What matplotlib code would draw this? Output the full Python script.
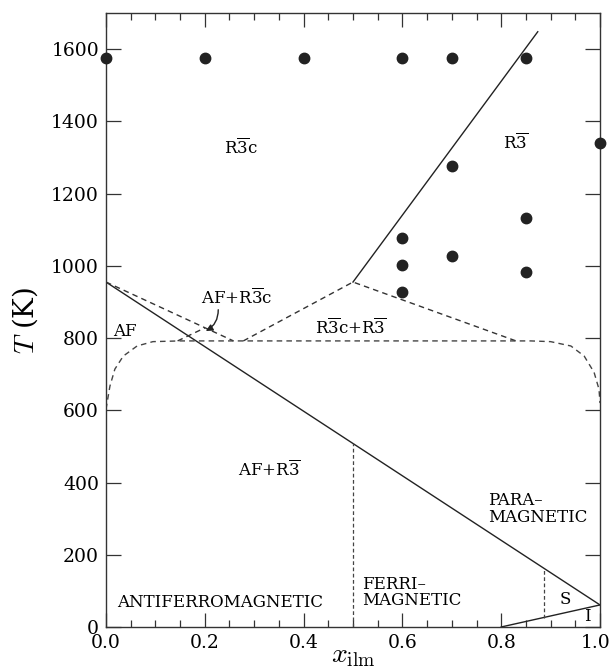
import numpy as np
import matplotlib
matplotlib.use('Agg')
import matplotlib.pyplot as plt
import matplotlib.transforms as mtransforms
from matplotlib.ticker import MultipleLocator

# Fonts: serif text, serif mathtext for the overbars and axis symbols
plt.rcParams['font.family'] = 'DejaVu Serif'
plt.rcParams['mathtext.fontset'] = 'dejavuserif'

# Measured points (x_ilm, T in K)
pts_x = [0.0, 0.2, 0.4, 0.6, 0.7, 0.85, 1.0, 0.7, 0.85, 0.6, 0.6, 0.6, 0.7, 0.85]
pts_T = [1575, 1575, 1575, 1575, 1575, 1575, 1340, 1276, 1132, 1077, 1002, 927, 1027, 983]

# R-3c / R-3 transition (solid, upper right)
trans_x = [0.5, 0.874]
trans_T = [955, 1648]

# Magnetic ordering line and the S / I boundary
neel_x = [0.0, 1.0]
neel_T = [955, 61]
si_x = [0.8, 1.0]
si_T = [0, 61]

# Dashed phase boundaries around the eutectoid region
afr_x = [0.0, 0.258]
afr_T = [955, 792]
afr2_x = [0.145, 0.2]
afr2_T = [792, 828]
tri_x = [0.278, 0.5, 0.83]
tri_T = [792, 955, 792]

# Miscibility gap (dashed curve)
gap_x = [0.0, 0.008, 0.018, 0.035, 0.063, 0.095, 0.15, 0.5, 0.86, 0.90, 0.941, 0.968, 0.988, 0.998, 1.0]
gap_T = [603, 667, 714, 750, 778, 790, 792, 792, 792, 790, 778, 750, 705, 658, 620]

# Vertical dashed lines (ferri / antiferro, S boundary)
v1_x = [0.5, 0.5]
v1_T = [0, 508]
v2_x = [0.886, 0.886]
v2_T = [26, 163]

xticks = [0.0, 0.2, 0.4, 0.6, 0.8, 1.0]
xticklabels = ['0.0', '0.2', '0.4', '0.6', '0.8', '1.0']

fig = plt.figure(figsize=(6.13, 6.71), dpi=100)
ax = fig.add_axes([0.1729, 0.0656, 0.8059, 0.9151])

lw = 1.0
dash = (0, (4, 3))
ax.plot(trans_x, trans_T, color='#222222', lw=lw)
ax.plot(neel_x, neel_T, color='#222222', lw=lw)
ax.plot(si_x, si_T, color='#222222', lw=lw)

ax.plot(afr_x, afr_T, color='#333333', lw=lw, ls=dash)
ax.plot(afr2_x, afr2_T, color='#333333', lw=lw, ls=dash)
ax.plot(tri_x, tri_T, color='#333333', lw=lw, ls=dash)
ax.plot(gap_x, gap_T, color='#444444', lw=lw, ls=dash)
ax.plot(v1_x, v1_T, color='#444444', lw=0.9, ls=(0, (3, 2)))
ax.plot(v2_x, v2_T, color='#444444', lw=0.9, ls=(0, (3, 2)))

ax.plot(pts_x, pts_T, 'o', color='#222222', markersize=7.5, clip_on=False, zorder=5)

fs = 12
ax.text(0.272, 1325, r'R$\overline{3}$c', fontsize=fs, ha='center', va='center')
ax.text(0.83, 1340, r'R$\overline{3}$', fontsize=fs, ha='center', va='center')
ax.text(0.265, 910, r'AF+R$\overline{3}$c', fontsize=fs, ha='center', va='center')
ax.text(0.015, 817, 'AF', fontsize=fs, ha='left', va='center')
ax.text(0.496, 828, r'R$\overline{3}$c+R$\overline{3}$', fontsize=fs, ha='center', va='center')
ax.text(0.33, 435, r'AF+R$\overline{3}$', fontsize=fs, ha='center', va='center')
ax.text(0.022, 69, 'ANTIFERROMAGNETIC', fontsize=fs, ha='left', va='center')
ax.text(0.518, 95, 'FERRI\u2013\nMAGNETIC', fontsize=fs, ha='left', va='center',
        linespacing=0.95)
ax.text(0.773, 327, 'PARA\u2013\nMAGNETIC', fontsize=fs, ha='left', va='center',
        linespacing=0.95)
ax.text(0.929, 75, 'S', fontsize=fs, ha='center', va='center')
ax.text(0.974, 28, 'I', fontsize=fs, ha='center', va='center')

ax.annotate('', xy=(0.197, 816), xytext=(0.227, 886),
            arrowprops=dict(arrowstyle='-|>', color='#222222', lw=1.0,
                            mutation_scale=10,
                            connectionstyle='arc3,rad=-0.35'))

ax.set_xlim(0, 1.0)
ax.set_ylim(0, 1700)
ax.xaxis.set_minor_locator(MultipleLocator(0.05))
ax.yaxis.set_major_locator(MultipleLocator(200))
ax.set_xticks(xticks)
ax.set_xticklabels(xticklabels)
ax.tick_params(which='both', direction='in', top=True, right=True,
               labelsize=13.5, color='#333333')
ax.tick_params(which='major', length=10, width=0.9, pad=5)
ax.tick_params(which='minor', length=5, width=0.9)
ax.tick_params(axis='y', which='major', length=11)
for s in ax.spines.values():
    s.set_linewidth(1.0)
    s.set_color('#333333')

# nudge the last x label in so it stays inside the figure
lab = ax.get_xticklabels()[-1]
lab.set_transform(lab.get_transform() +
                  mtransforms.ScaledTranslation(-3/72., 0, fig.dpi_scale_trans))

ax.set_xlabel(r'$x_{\mathrm{ilm}}$', fontsize=20, labelpad=-7, math_fontfamily='cm')
ax.set_ylabel(r'$T$ (K)', fontsize=20, labelpad=8, math_fontfamily='cm')

plt.savefig('out.png', dpi=100)
